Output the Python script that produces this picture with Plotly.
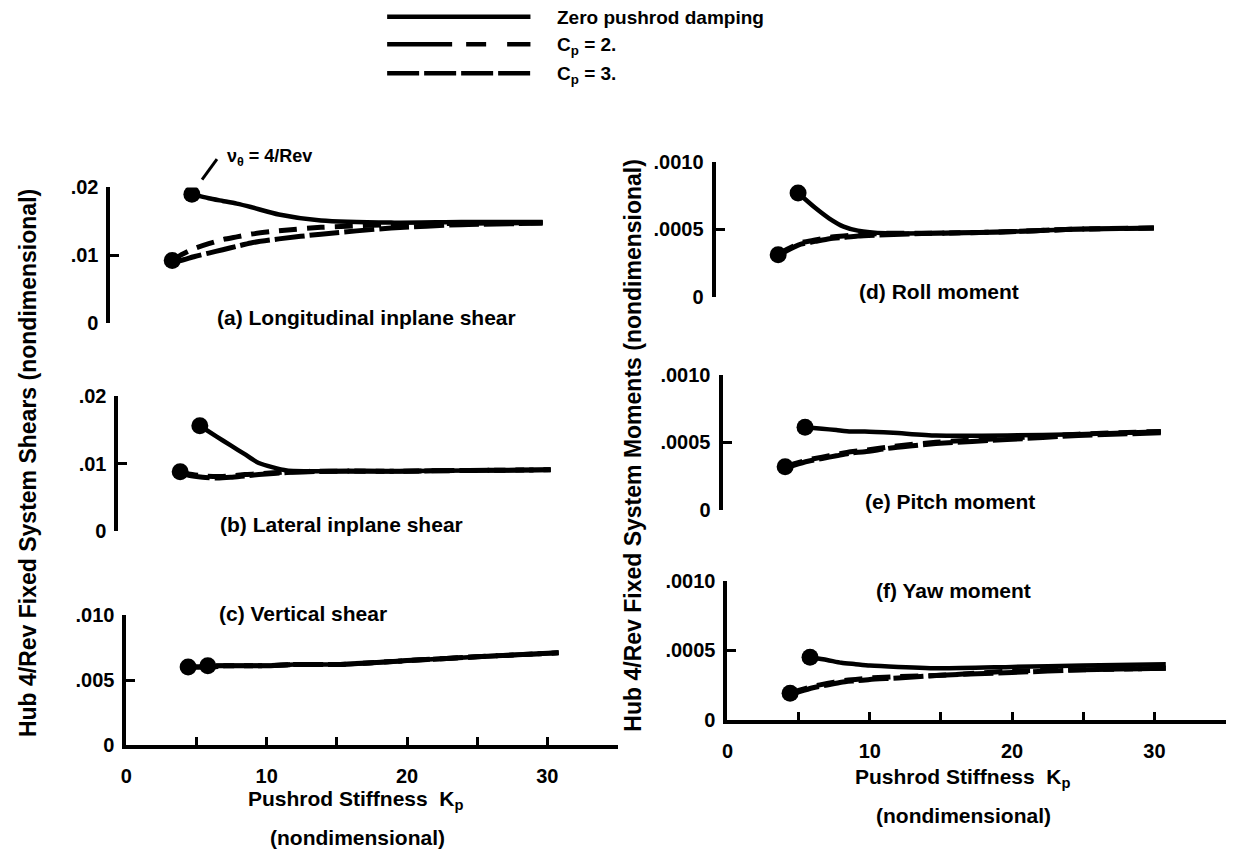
import plotly.graph_objects as go

W, H = 1238, 866
FONT = "Liberation Sans"

# Pushrod stiffness stations (nondimensional)
K_ZERO = [5.8, 7, 8, 9, 10, 12, 15, 20, 25, 30.8]
K_DAMP = [4.4, 5, 6, 7, 8, 9, 10, 12, 15, 20, 25, 30.8]

# (a) Longitudinal inplane shear
a_zero = [0.0190, 0.0184, 0.0180, 0.0176, 0.0171, 0.0160, 0.0151, 0.0148, 0.0149, 0.0149]
a_cp2 = [0.0092, 0.0100, 0.0110, 0.0117, 0.0123, 0.0127, 0.0131, 0.0136, 0.0141, 0.0145, 0.0147, 0.0148]
a_cp3 = [0.0090, 0.0092, 0.0098, 0.0103, 0.0108, 0.0113, 0.0118, 0.0124, 0.0131, 0.0140, 0.0145, 0.0147]

# (b) Lateral inplane shear
b_zero = [0.0156, 0.0140, 0.0127, 0.0114, 0.0101, 0.0090, 0.0089, 0.0089, 0.0090, 0.0091]
b_cp2 = [0.0088, 0.0085, 0.0082, 0.0081, 0.0082, 0.0084, 0.0085, 0.0088, 0.0089, 0.0089, 0.0090, 0.0091]
b_cp3 = [0.0087, 0.0083, 0.0080, 0.0079, 0.0080, 0.0082, 0.0084, 0.0087, 0.0089, 0.0089, 0.0090, 0.0091]

# (c) Vertical shear
c_zero = [0.0061, 0.0061, 0.0061, 0.0061, 0.0061, 0.0062, 0.0062, 0.0065, 0.0068, 0.0071]
c_cp2 = [0.0060, 0.0060, 0.0061, 0.0061, 0.0061, 0.0061, 0.0061, 0.0062, 0.0062, 0.0065, 0.0068, 0.0071]
c_cp3 = [0.0060, 0.0060, 0.0060, 0.0061, 0.0061, 0.0061, 0.0061, 0.0062, 0.0062, 0.0065, 0.0068, 0.0071]

# (d) Roll moment
d_zero = [0.00077, 0.00066, 0.00058, 0.00052, 0.00049, 0.00047, 0.00047, 0.00048, 0.00050, 0.00051]
d_cp2 = [0.00031, 0.00035, 0.00040, 0.00042, 0.00044, 0.00045, 0.00046, 0.00047, 0.00047, 0.00048, 0.00050, 0.00051]
d_cp3 = [0.00030, 0.00034, 0.00039, 0.00041, 0.00043, 0.00044, 0.00045, 0.00046, 0.00047, 0.00048, 0.00050, 0.00051]

# (e) Pitch moment
e_zero = [0.00061, 0.00060, 0.00059, 0.00058, 0.00058, 0.00057, 0.00055, 0.00055, 0.00056, 0.00058]
e_cp2 = [0.00032, 0.00034, 0.00037, 0.00039, 0.00041, 0.00043, 0.00044, 0.00047, 0.00050, 0.00053, 0.00056, 0.00058]
e_cp3 = [0.00031, 0.00033, 0.00036, 0.00038, 0.00040, 0.00042, 0.00043, 0.00046, 0.00049, 0.00052, 0.00055, 0.00057]

# (f) Yaw moment
f_zero = [0.00045, 0.00043, 0.00041, 0.00040, 0.00039, 0.00038, 0.00037, 0.00038, 0.00039, 0.00040]
f_cp2 = [0.00019, 0.00021, 0.00024, 0.00026, 0.00028, 0.00029, 0.00030, 0.00031, 0.00032, 0.00035, 0.00036, 0.00037]
f_cp3 = [0.00018, 0.00020, 0.00023, 0.00025, 0.00027, 0.00028, 0.00029, 0.00030, 0.00032, 0.00034, 0.00036, 0.00037]

SHEAR_TICKS = [0, 0.01, 0.02]
SHEAR_TEXT = ["0", ".01", ".02"]
VERT_TICKS = [0, 0.005, 0.010]
VERT_TEXT = ["0", ".005", ".010"]
MOM_TICKS = [0, 0.0005, 0.0010]
MOM_TEXT = ["0", ".0005", ".0010"]
K_TICKS = [0, 5, 10, 15, 20, 25, 30, 35]
K_TEXT = ["0", "", "10", "", "20", "", "30", ""]

CP2_DASH = "18px,10px"
CP3_DASH = "30px,5px"


def px(x):
    return x / W


def py(y):
    return 1 - y / H


# pixel frame of each panel: origin x, px per unit K, y of zero, y of top tick
panels = [
    dict(title="(a) Longitudinal inplane shear", tpos=(362, 315), x0=105, s=14.1, y0=320, ytop=181,
         ymax=0.02, tv=SHEAR_TICKS, tt=SHEAR_TEXT, series=(a_zero, a_cp2, a_cp3), kaxis=False),
    dict(title="(b) Lateral inplane shear", tpos=(337, 527), x0=113, s=14.1, y0=534, ytop=395,
         ymax=0.02, tv=SHEAR_TICKS, tt=SHEAR_TEXT, series=(b_zero, b_cp2, b_cp3), kaxis=False),
    dict(title="(c) Vertical shear", tpos=(298, 618), x0=121, s=14.1, y0=753, ytop=620,
         ymax=0.010, tv=VERT_TICKS, tt=VERT_TEXT, series=(c_zero, c_cp2, c_cp3), kaxis=True),
    dict(title="(d) Roll moment", tpos=(938, 288), x0=713, s=14.3, y0=293, ytop=155,
         ymax=0.0010, tv=MOM_TICKS, tt=MOM_TEXT, series=(d_zero, d_cp2, d_cp3), kaxis=False),
    dict(title="(e) Pitch moment", tpos=(949, 503), x0=720, s=14.3, y0=512, ytop=373,
         ymax=0.0010, tv=MOM_TICKS, tt=MOM_TEXT, series=(e_zero, e_cp2, e_cp3), kaxis=False),
    dict(title="(f) Yaw moment", tpos=(952, 595), x0=725, s=14.3, y0=727, ytop=585,
         ymax=0.0010, tv=MOM_TICKS, tt=MOM_TEXT, series=(f_zero, f_cp2, f_cp3), kaxis=True),
]

fig = go.Figure()
layout = {}
annotations = []


def note(text, x, y, size=21, angle=0, xanchor="center"):
    return dict(text=text, x=px(x), y=py(y), xref="paper", yref="paper",
                xanchor=xanchor, yanchor="middle", textangle=angle, showarrow=False,
                font=dict(family=FONT, size=size, color="black", weight="bold"))


for i, p in enumerate(panels, start=1):
    xa, ya = f"x{i}", f"y{i}"
    zero, cp2, cp3 = p["series"]
    for vals, dash in ((cp3, CP3_DASH), (cp2, CP2_DASH)):
        fig.add_trace(go.Scatter(
            x=K_DAMP, y=vals, mode="lines", xaxis=xa, yaxis=ya,
            line=dict(color="black", width=5, dash=dash, shape="spline", smoothing=0.6),
            hoverinfo="skip"))
    fig.add_trace(go.Scatter(
        x=K_ZERO, y=zero, mode="lines", xaxis=xa, yaxis=ya,
        line=dict(color="black", width=4.5, shape="spline", smoothing=0.6),
        hoverinfo="skip"))
    # instability-onset points at the start of each curve
    fig.add_trace(go.Scatter(
        x=[K_DAMP[0], K_ZERO[0]], y=[cp2[0], zero[0]], mode="markers", xaxis=xa, yaxis=ya,
        marker=dict(color="#000000", size=17, opacity=1, line=dict(width=0)),
        hoverinfo="skip"))

    xname = "xaxis" if i == 1 else f"xaxis{i}"
    yname = "yaxis" if i == 1 else f"yaxis{i}"
    layout[xname] = dict(
        domain=[px(p["x0"]), px(p["x0"] + 35 * p["s"])], range=[0, 35], anchor=ya,
        visible=p["kaxis"], showgrid=False, zeroline=False,
        showline=True, linecolor="black", linewidth=4,
        ticks="inside", ticklen=8, tickwidth=3, tickcolor="black",
        tickvals=K_TICKS, ticktext=K_TEXT, ticklabelstandoff=10,
        tickfont=dict(family=FONT, size=20, color="black", weight="bold"))
    layout[yname] = dict(
        domain=[py(p["y0"]), py(p["ytop"])], range=[0, p["ymax"]], anchor=xa,
        showgrid=False, zeroline=False,
        showline=True, linecolor="black", linewidth=4,
        ticks="inside", ticklen=9, tickwidth=3, tickcolor="black",
        tickvals=p["tv"], ticktext=p["tt"], ticklabelstandoff=4,
        tickfont=dict(family=FONT, size=20, color="black", weight="bold"))
    annotations.append(note(p["title"], *p["tpos"]))

annotations += [
    note("Hub 4/Rev Fixed System Shears (nondimensional)", 22, 464, size=23, angle=-90),
    note("Hub 4/Rev Fixed System Moments (nondimensional)", 630, 445, size=23, angle=-90),
    note("Pushrod Stiffness  K<sub>p</sub>", 352, 810),
    note("(nondimensional)", 353, 848),
    note("Pushrod Stiffness  K<sub>p</sub>", 962, 787),
    note("(nondimensional)", 962, 825),
    note("ν<sub>θ</sub> = 4/Rev", 220, 150, size=18, xanchor="left"),
    note("Zero pushrod damping", 552, 7, size=19, xanchor="left"),
    note("C<sub>p</sub> = 2.", 552, 36, size=19, xanchor="left"),
    note("C<sub>p</sub> = 3.", 552, 66, size=19, xanchor="left"),
]

shapes = [
    # legend keys
    dict(type="line", xref="paper", yref="paper", x0=px(383), x1=px(527), y0=py(6), y1=py(6),
         line=dict(color="black", width=4.5)),
    dict(type="line", xref="paper", yref="paper", x0=px(383), x1=px(527), y0=py(34), y1=py(34),
         line=dict(color="black", width=4.5, dash="65px,14px,20px,21px,24px")),
    dict(type="line", xref="paper", yref="paper", x0=px(383), x1=px(527), y0=py(64), y1=py(64),
         line=dict(color="black", width=4.5, dash="32px,5px")),
    # leader for the 4/Rev label
    dict(type="line", xref="paper", yref="paper", x0=px(212), x1=px(197), y0=py(152), y1=py(173),
         line=dict(color="black", width=3)),
]

fig.update_layout(
    width=W, height=H, margin=dict(l=0, r=0, t=0, b=0),
    paper_bgcolor="white", plot_bgcolor="white", showlegend=False,
    annotations=annotations, shapes=shapes, **layout)

fig.write_html("out.html")
